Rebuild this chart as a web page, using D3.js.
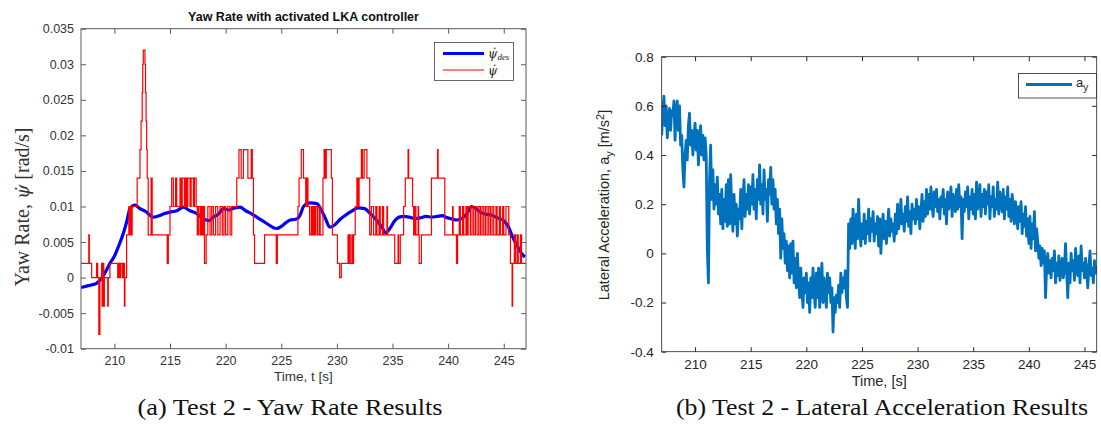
<!DOCTYPE html>
<html><head><meta charset="utf-8">
<script src="https://cdn.jsdelivr.net/npm/d3@7"></script>
<style>body{margin:0;background:#fff}svg{display:block}</style>
</head><body><svg id="c" width="1101" height="431"></svg>
<script>
// ---------- data: left chart ----------
const yawTicksX = [210,215,220,225,230,235,240,245];
const yawTicksY = [-0.01,-0.005,0,0.005,0.01,0.015,0.02,0.025,0.03,0.035];
const yawTickLabels = ["-0.01","-0.005","0","0.005","0.01","0.015","0.02","0.025","0.03","0.035"];
const desTime = [207,207.5,208,208.4,208.85,209.2,209.6,210,210.35,210.8,211.1,211.4,211.85,212.3,212.8,213.5,214,214.5,215,215.6,216.2,216.8,217.4,218,218.5,218.9,219.4,219.8,220.3,220.8,221.3,221.8,222.3,222.8,223.3,223.8,224.3,224.6,225,225.4,225.8,226.3,226.7,227,227.6,228.2,228.6,229,229.35,229.8,230.3,230.8,231.3,231.9,232.5,233,233.5,234,234.4,234.8,235.2,235.6,236,236.5,237,237.5,238,238.5,239,239.5,239.8,240.2,240.7,241.2,241.7,242.1,242.5,243,243.4,243.9,244.3,244.6,245,245.4,245.8,246.2,246.6,246.9];
const desValue = [-0.0014,-0.0012,-0.001,-0.0008,-0.0001,0.0008,0.002,0.003,0.0043,0.0062,0.0078,0.0097,0.0102,0.0097,0.0093,0.0085,0.0087,0.0090,0.0092,0.0094,0.0099,0.0094,0.0090,0.0083,0.0080,0.0085,0.0090,0.0097,0.0095,0.0098,0.0099,0.0094,0.0090,0.0085,0.0080,0.0075,0.0070,0.0069,0.0072,0.0077,0.0081,0.0082,0.0088,0.0100,0.0105,0.0104,0.0095,0.0082,0.0071,0.0074,0.0082,0.0088,0.0093,0.0098,0.0097,0.0090,0.0082,0.0072,0.0063,0.0070,0.0080,0.0085,0.0086,0.0085,0.0083,0.0084,0.0086,0.0085,0.0086,0.0087,0.0085,0.0083,0.0081,0.0083,0.0090,0.0100,0.0097,0.0091,0.0089,0.0088,0.0085,0.0083,0.0080,0.0072,0.0057,0.0045,0.0034,0.0029];
const actTime = [207,207.7,207.75,207.96,208.4,208.5,208.6,208.7,208.85,208.9,208.95,209.05,209.1,209.4,209.45,209.6,210.3,210.4,210.5,210.55,210.7,210.8,210.9,210.95,211.1,211.3,211.35,211.45,211.5,211.6,212.05,212.3,212.4,212.5,212.55,212.6,212.75,212.8,212.85,212.9,212.95,213.04,213.3,213.4,214.75,214.85,215,215.15,215.3,215.5,215.6,215.9,216,216.1,216.3,216.4,216.5,216.6,216.8,216.9,217.1,217.2,217.35,217.45,217.55,217.7,217.8,217.9,218,218.1,218.25,218.4,218.6,218.75,218.9,219.1,219.3,219.5,219.7,219.85,220,220.2,220.4,220.55,220.7,221,221.2,221.4,221.6,222,222.3,222.4,222.5,222.6,223.5,224.55,224.65,226.5,226.6,226.8,227,227.2,227.3,227.4,227.55,227.7,227.8,227.9,228,228.1,228.25,228.4,228.5,228.75,228.85,228.95,229.05,229.5,229.6,230.05,230.25,230.4,231,231.05,231.15,231.2,231.35,231.4,231.5,231.65,231.8,231.9,232,232.2,232.3,232.45,232.7,232.95,233.1,233.3,233.5,233.6,233.8,233.9,234.1,234.2,234.5,234.55,235.2,235.5,235.55,235.7,236,236.15,236.4,236.45,236.8,236.9,237,237.1,237.3,237.35,237.4,237.6,238.5,239.05,239.1,239.7,240.4,240.45,240.75,240.85,241,241.1,241.3,241.4,241.6,241.7,241.8,242,242.15,242.3,242.45,242.6,242.75,242.9,243.05,243.2,243.35,243.5,243.65,243.8,243.95,244.1,244.3,244.4,244.6,244.7,244.9,245,245.2,245.45,245.6,245.75,245.8,245.95,246.05,246.2,246.3,246.5,246.6,247];
const actValue = [0.002,0.006,0.002,0,0.002,0,-0.008,0,0.002,-0.004,0.002,-0.004,0,-0.004,0,0.002,0,0.002,0,0.002,0,0.002,-0.004,0,0.006,0.010,0.006,0.010,0.006,0.010,0.014,0.018,0.022,0.026,0.030,0.032,0.030,0.026,0.022,0.018,0.014,0.006,0.014,0.006,0.002,0.006,0.010,0.014,0.010,0.014,0.010,0.014,0.010,0.014,0.010,0.014,0.010,0.014,0.010,0.014,0.010,0.014,0.010,0.006,0.010,0.006,0.010,0.006,0.010,0.002,0.006,0.010,0.006,0.010,0.006,0.010,0.006,0.010,0.006,0.010,0.006,0.010,0.006,0.010,0.010,0.014,0.018,0.014,0.018,0.014,0.018,0.014,0.006,0.002,0.006,0.002,0.006,0.010,0.014,0.018,0.014,0.010,0.014,0.010,0.006,0.010,0.006,0.010,0.006,0.010,0.006,0.010,0.006,0.014,0.018,0.014,0.018,0.014,0.006,0.002,0,0.002,0.006,0.002,0.006,0.002,0.006,0.002,0.006,0.010,0.014,0.010,0.014,0.018,0.014,0.018,0.014,0.006,0.010,0.006,0.010,0.006,0.010,0.006,0.010,0.006,0.010,0.006,0.002,0.006,0.002,0.006,0.010,0.014,0.018,0.014,0.010,0.006,0.010,0.006,0.010,0.006,0.002,0.006,0.014,0.018,0.014,0.006,0.010,0.006,0.002,0.006,0.010,0.006,0.010,0.006,0.010,0.006,0.010,0.006,0.010,0.006,0.010,0.006,0.010,0.006,0.010,0.006,0.010,0.006,0.010,0.006,0.010,0.006,0.010,0.006,0.010,0.006,0.010,0.006,0.010,0.006,0.002,-0.004,0.002,0.006,0.002,0.006,0.002,0.006,0.002,0.002];

// ---------- data: right chart ----------
const ayTicksX = [210,215,220,225,230,235,240,245];
const ayTicksY = [-0.4,-0.2,0,0.2,0.4,0.6,0.8];
const ayTickLabels = ["-0.4","-0.2","0","0.2","0.4","0.6","0.8"];
const ayStart = 207.0, ayStep = 0.1;
const ayValue = [
0.48,0.58,0.64,0.52,0.60,0.47,0.55,0.59,0.50,0.58,
0.56,0.62,0.46,0.58,0.62,0.50,0.60,0.44,0.48,0.34,
0.27,0.40,0.46,0.38,0.52,0.57,0.44,0.50,0.40,0.48,
0.53,0.42,0.50,0.36,0.46,0.52,0.40,0.48,0.38,0.47,
0.40,0.02,-0.12,0.30,0.44,0.22,0.34,0.18,0.28,0.20,
0.31,0.16,0.24,0.12,0.26,0.10,0.22,0.13,0.28,0.11,
0.30,0.12,0.32,0.18,0.09,0.24,0.12,0.20,0.07,0.18,
0.14,0.26,0.10,0.22,0.30,0.15,0.24,0.18,0.28,0.16,
0.27,0.20,0.32,0.18,0.26,0.14,0.30,0.22,0.36,0.20,
0.28,0.16,0.34,0.22,0.26,0.13,0.30,0.24,0.35,0.20,
0.30,0.18,0.26,0.12,0.22,0.08,0.18,-0.02,0.14,0.02,
0.08,-0.04,0.05,-0.07,0.03,-0.10,0.04,-0.08,0.05,-0.12,
-0.02,-0.14,0.00,-0.10,-0.18,-0.06,-0.15,-0.22,-0.10,-0.16,
-0.08,-0.20,-0.12,-0.24,-0.10,-0.18,-0.06,-0.16,-0.22,-0.08,
-0.18,-0.06,-0.22,-0.12,-0.04,-0.20,-0.10,-0.16,-0.22,-0.08,
-0.16,-0.10,-0.20,-0.14,-0.32,-0.18,-0.24,-0.17,-0.20,-0.13,
-0.22,-0.08,-0.16,-0.10,-0.14,-0.07,-0.18,-0.22,0.12,0.02,
0.14,0.04,0.18,0.08,0.02,0.16,0.06,0.22,0.10,0.03,
0.12,0.06,0.16,0.04,0.13,0.08,0.18,0.05,0.14,0.09,
0.17,0.05,0.12,0.08,0.15,0.03,0.14,0.00,0.10,0.16,
0.06,0.13,0.04,0.11,0.18,0.07,0.14,0.09,0.12,0.05,
0.16,0.08,0.20,0.10,0.14,0.22,0.12,0.16,0.09,0.19,
0.13,0.23,0.11,0.17,0.08,0.20,0.14,0.18,0.12,0.22,
0.14,0.19,0.10,0.17,0.24,0.13,0.21,0.15,0.26,0.16,
0.24,0.18,0.27,0.20,0.15,0.25,0.19,0.26,0.17,0.22,
0.14,0.23,0.19,0.26,0.16,0.22,0.12,0.25,0.18,0.21,
0.27,0.15,0.24,0.20,0.17,0.26,0.18,0.28,0.19,0.23,
0.06,0.22,0.17,0.25,0.19,0.27,0.14,0.23,0.18,0.26,
0.16,0.24,0.14,0.29,0.18,0.22,0.28,0.15,0.24,0.19,
0.26,0.16,0.25,0.20,0.28,0.14,0.23,0.19,0.27,0.15,
0.22,0.18,0.29,0.16,0.25,0.21,0.17,0.26,0.14,0.23,
0.18,0.27,0.15,0.22,0.13,0.24,0.19,0.12,0.21,0.17,
0.10,0.19,0.13,0.21,0.08,0.16,0.11,0.19,0.07,0.14,
0.04,0.15,0.02,0.12,0.06,0.17,0.01,0.10,0.05,-0.02,
0.03,-0.05,0.02,-0.04,0.01,-0.18,-0.06,0.00,-0.08,-0.03,
-0.10,-0.02,-0.07,0.01,-0.12,-0.04,-0.09,-0.01,-0.11,-0.05,
-0.02,-0.10,-0.06,0.04,-0.08,-0.18,-0.04,-0.12,0.00,-0.07,
-0.03,-0.11,0.02,-0.06,-0.09,-0.01,-0.12,0.03,-0.07,-0.04,
-0.10,-0.02,-0.08,-0.14,-0.05,0.01,-0.09,-0.06,-0.12,-0.03,
-0.08,-0.05];
const ayTime = ayValue.map((_, i) => ayStart + i * ayStep);

const svg = d3.select("#c");
svg.append("rect").attr("width",1101).attr("height",431).attr("fill","#fff");
const sans = "'Liberation Sans', Arial, Helvetica, sans-serif";
const serif = "'Liberation Serif', 'Times New Roman', serif";
const PSI_DOT = "\u03C8\u0307";

function styleAxis(g, col, fs, tcol){
  g.select(".domain").remove();
  g.selectAll(".tick line").attr("stroke", col);
  g.selectAll(".tick text").attr("fill", tcol).style("font-family", sans).style("font-size", fs+"px");
}
function psiSpan(sel){
  return sel.append("tspan").style("font-family","'DejaVu Serif', serif").style("font-style","italic").style("font-size","0.92em").text(PSI_DOT);
}

// ===== LEFT CHART =====
const L = {l:81, r:526, t:28.7, b:348.7};
const xL = d3.scaleLinear().domain([207,247]).range([L.l, L.r]);
const yL = d3.scaleLinear().domain([-0.01,0.035]).range([L.b, L.t]);
const gL = svg.append("g");
const axColL = "#5a5a5a";
svg.append("clipPath").attr("id","clipL").append("rect").attr("x",L.l).attr("y",L.t).attr("width",L.r-L.l).attr("height",L.b-L.t);

const gData = gL.append("g").attr("clip-path","url(#clipL)");
const blueLine = d3.line().x((d,i)=>xL(desTime[i])).y(d=>yL(d)).curve(d3.curveMonotoneX);
const redLine = d3.line().x((d,i)=>xL(actTime[i])).y(d=>yL(d)).curve(d3.curveStepAfter);
gData.append("path").attr("d", blueLine(desValue)).attr("fill","none").attr("stroke","#0000ff").attr("stroke-width",3.2);
gData.append("path").attr("d", redLine(actValue)).attr("fill","none").attr("stroke","#ff0000").attr("stroke-width",1.2);

const axBL = gL.append("g").attr("transform",`translate(0,${L.b})`).call(d3.axisBottom(xL).tickValues(yawTicksX).tickSize(-5).tickPadding(7));
styleAxis(axBL, axColL, 12.5, "#333");
const axTL = gL.append("g").attr("transform",`translate(0,${L.t})`).call(d3.axisTop(xL).tickValues(yawTicksX).tickSize(-5).tickFormat(""));
styleAxis(axTL, axColL, 12, "#333");
const axLL = gL.append("g").attr("transform",`translate(${L.l},0)`).call(d3.axisLeft(yL).tickValues(yawTicksY).tickSize(-5).tickPadding(7).tickFormat((d,i)=>yawTickLabels[i]));
styleAxis(axLL, axColL, 12.5, "#333");
const axRL = gL.append("g").attr("transform",`translate(${L.r},0)`).call(d3.axisRight(yL).tickValues(yawTicksY).tickSize(-5).tickFormat(""));
styleAxis(axRL, axColL, 12, "#333");
gL.append("rect").attr("x",L.l).attr("y",L.t).attr("width",L.r-L.l).attr("height",L.b-L.t).attr("fill","none").attr("stroke",axColL).attr("stroke-width",1);

gL.append("text").attr("x",(L.l+L.r)/2).attr("y",21).attr("text-anchor","middle")
  .style("font-family",sans).style("font-size","12.5px").style("font-weight","bold").attr("fill","#111")
  .text("Yaw Rate with activated LKA controller");
gL.append("text").attr("x",(L.l+L.r)/2).attr("y",381).attr("text-anchor","middle")
  .style("font-family",sans).style("font-size","13.5px").attr("fill","#333").text("Time, t [s]");
const ylab = gL.append("text").attr("transform","translate(29,207) rotate(-90)").attr("text-anchor","middle")
  .style("font-family",serif).style("font-size","20px").attr("fill","#333");
ylab.append("tspan").text("Yaw Rate, ");
psiSpan(ylab);
ylab.append("tspan").text(" [rad/s]");

// legend left
const lg = gL.append("g");
lg.append("rect").attr("x",434.5).attr("y",42.5).attr("width",79).attr("height",38).attr("fill","#fff").attr("stroke","#444").attr("stroke-width",0.8);
lg.append("line").attr("x1",443).attr("x2",484).attr("y1",53.5).attr("y2",53.5).attr("stroke","#0000ff").attr("stroke-width",3.2);
lg.append("line").attr("x1",443).attr("x2",484).attr("y1",70).attr("y2",70).attr("stroke","#ff0000").attr("stroke-width",1.2);
const t1 = lg.append("text").attr("x",488).attr("y",58).style("font-family",serif).style("font-size","13px").attr("fill","#222");
psiSpan(t1);
t1.append("tspan").attr("dy",2).style("font-size","9px").style("font-style","italic").text("des");
const t2 = lg.append("text").attr("x",488).attr("y",75).style("font-family",serif).style("font-size","13px").attr("fill","#222");
psiSpan(t2);

// ===== RIGHT CHART =====
const R = {l:661.7, r:1096.7, t:56.7, b:351.7};
const xR = d3.scaleLinear().domain([207,246.1]).range([R.l, R.r]);
const yR = d3.scaleLinear().domain([-0.4,0.8]).range([R.b, R.t]);
const gR = svg.append("g");
const axColR = "#262626";
svg.append("clipPath").attr("id","clipR").append("rect").attr("x",R.l).attr("y",R.t).attr("width",R.r-R.l).attr("height",R.b-R.t);
const ayLine = d3.line().x((d,i)=>xR(ayTime[i])).y(d=>yR(d));
gR.append("g").attr("clip-path","url(#clipR)").append("path").attr("d", ayLine(ayValue))
  .attr("fill","none").attr("stroke","#0072bd").attr("stroke-width",2.8).attr("stroke-linejoin","round");

const axBR = gR.append("g").attr("transform",`translate(0,${R.b})`).call(d3.axisBottom(xR).tickValues(ayTicksX).tickSize(-4.5).tickPadding(8));
styleAxis(axBR, axColR, 13.5, "#262626");
const axTR = gR.append("g").attr("transform",`translate(0,${R.t})`).call(d3.axisTop(xR).tickValues(ayTicksX).tickSize(-4.5).tickFormat(""));
styleAxis(axTR, axColR, 13, "#262626");
const axLR = gR.append("g").attr("transform",`translate(${R.l},0)`).call(d3.axisLeft(yR).tickValues(ayTicksY).tickSize(-4.5).tickPadding(8).tickFormat((d,i)=>ayTickLabels[i]));
styleAxis(axLR, axColR, 13.5, "#262626");
const axRR = gR.append("g").attr("transform",`translate(${R.r},0)`).call(d3.axisRight(yR).tickValues(ayTicksY).tickSize(-4.5).tickFormat(""));
styleAxis(axRR, axColR, 13, "#262626");
gR.append("rect").attr("x",R.l).attr("y",R.t).attr("width",R.r-R.l).attr("height",R.b-R.t).attr("fill","none").attr("stroke",axColR).attr("stroke-width",0.8);

gR.append("text").attr("x",(R.l+R.r)/2).attr("y",386).attr("text-anchor","middle")
  .style("font-family",sans).style("font-size","14.5px").attr("fill","#262626").text("Time, [s]");
const ylabR = gR.append("text").attr("transform","translate(609,205) rotate(-90)").attr("text-anchor","middle")
  .style("font-family",sans).style("font-size","14.5px").attr("fill","#262626");
ylabR.append("tspan").text("Lateral Acceleration, a");
ylabR.append("tspan").attr("dy",4).style("font-size","11px").text("y");
ylabR.append("tspan").attr("dy",-4).text(" [m/s");
ylabR.append("tspan").attr("dy",-5).style("font-size","11px").text("2");
ylabR.append("tspan").attr("dy",5).text("]");

// legend right
const lgR = gR.append("g");
lgR.append("rect").attr("x",1018.5).attr("y",73.5).attr("width",78).attr("height",24.5).attr("fill","#fff").attr("stroke","#262626").attr("stroke-width",0.8);
lgR.append("line").attr("x1",1026).attr("x2",1072).attr("y1",84.5).attr("y2",84.5).attr("stroke","#0072bd").attr("stroke-width",2.8);
const la = lgR.append("text").attr("x",1076).attr("y",87).style("font-family",sans).style("font-size","13px").attr("fill","#262626");
la.append("tspan").text("a");
la.append("tspan").attr("dy",4).style("font-size","10px").text("y");

// captions
svg.append("text").attr("x",290).attr("y",415).attr("text-anchor","middle").style("font-family",serif).style("font-size","23.5px")
  .attr("textLength",305).attr("lengthAdjust","spacingAndGlyphs").attr("fill","#111").text("(a) Test 2 - Yaw Rate Results");
svg.append("text").attr("x",882).attr("y",415).attr("text-anchor","middle").style("font-family",serif).style("font-size","23.5px")
  .attr("textLength",412).attr("lengthAdjust","spacingAndGlyphs").attr("fill","#111").text("(b) Test 2 - Lateral Acceleration Results");
</script></body></html>
